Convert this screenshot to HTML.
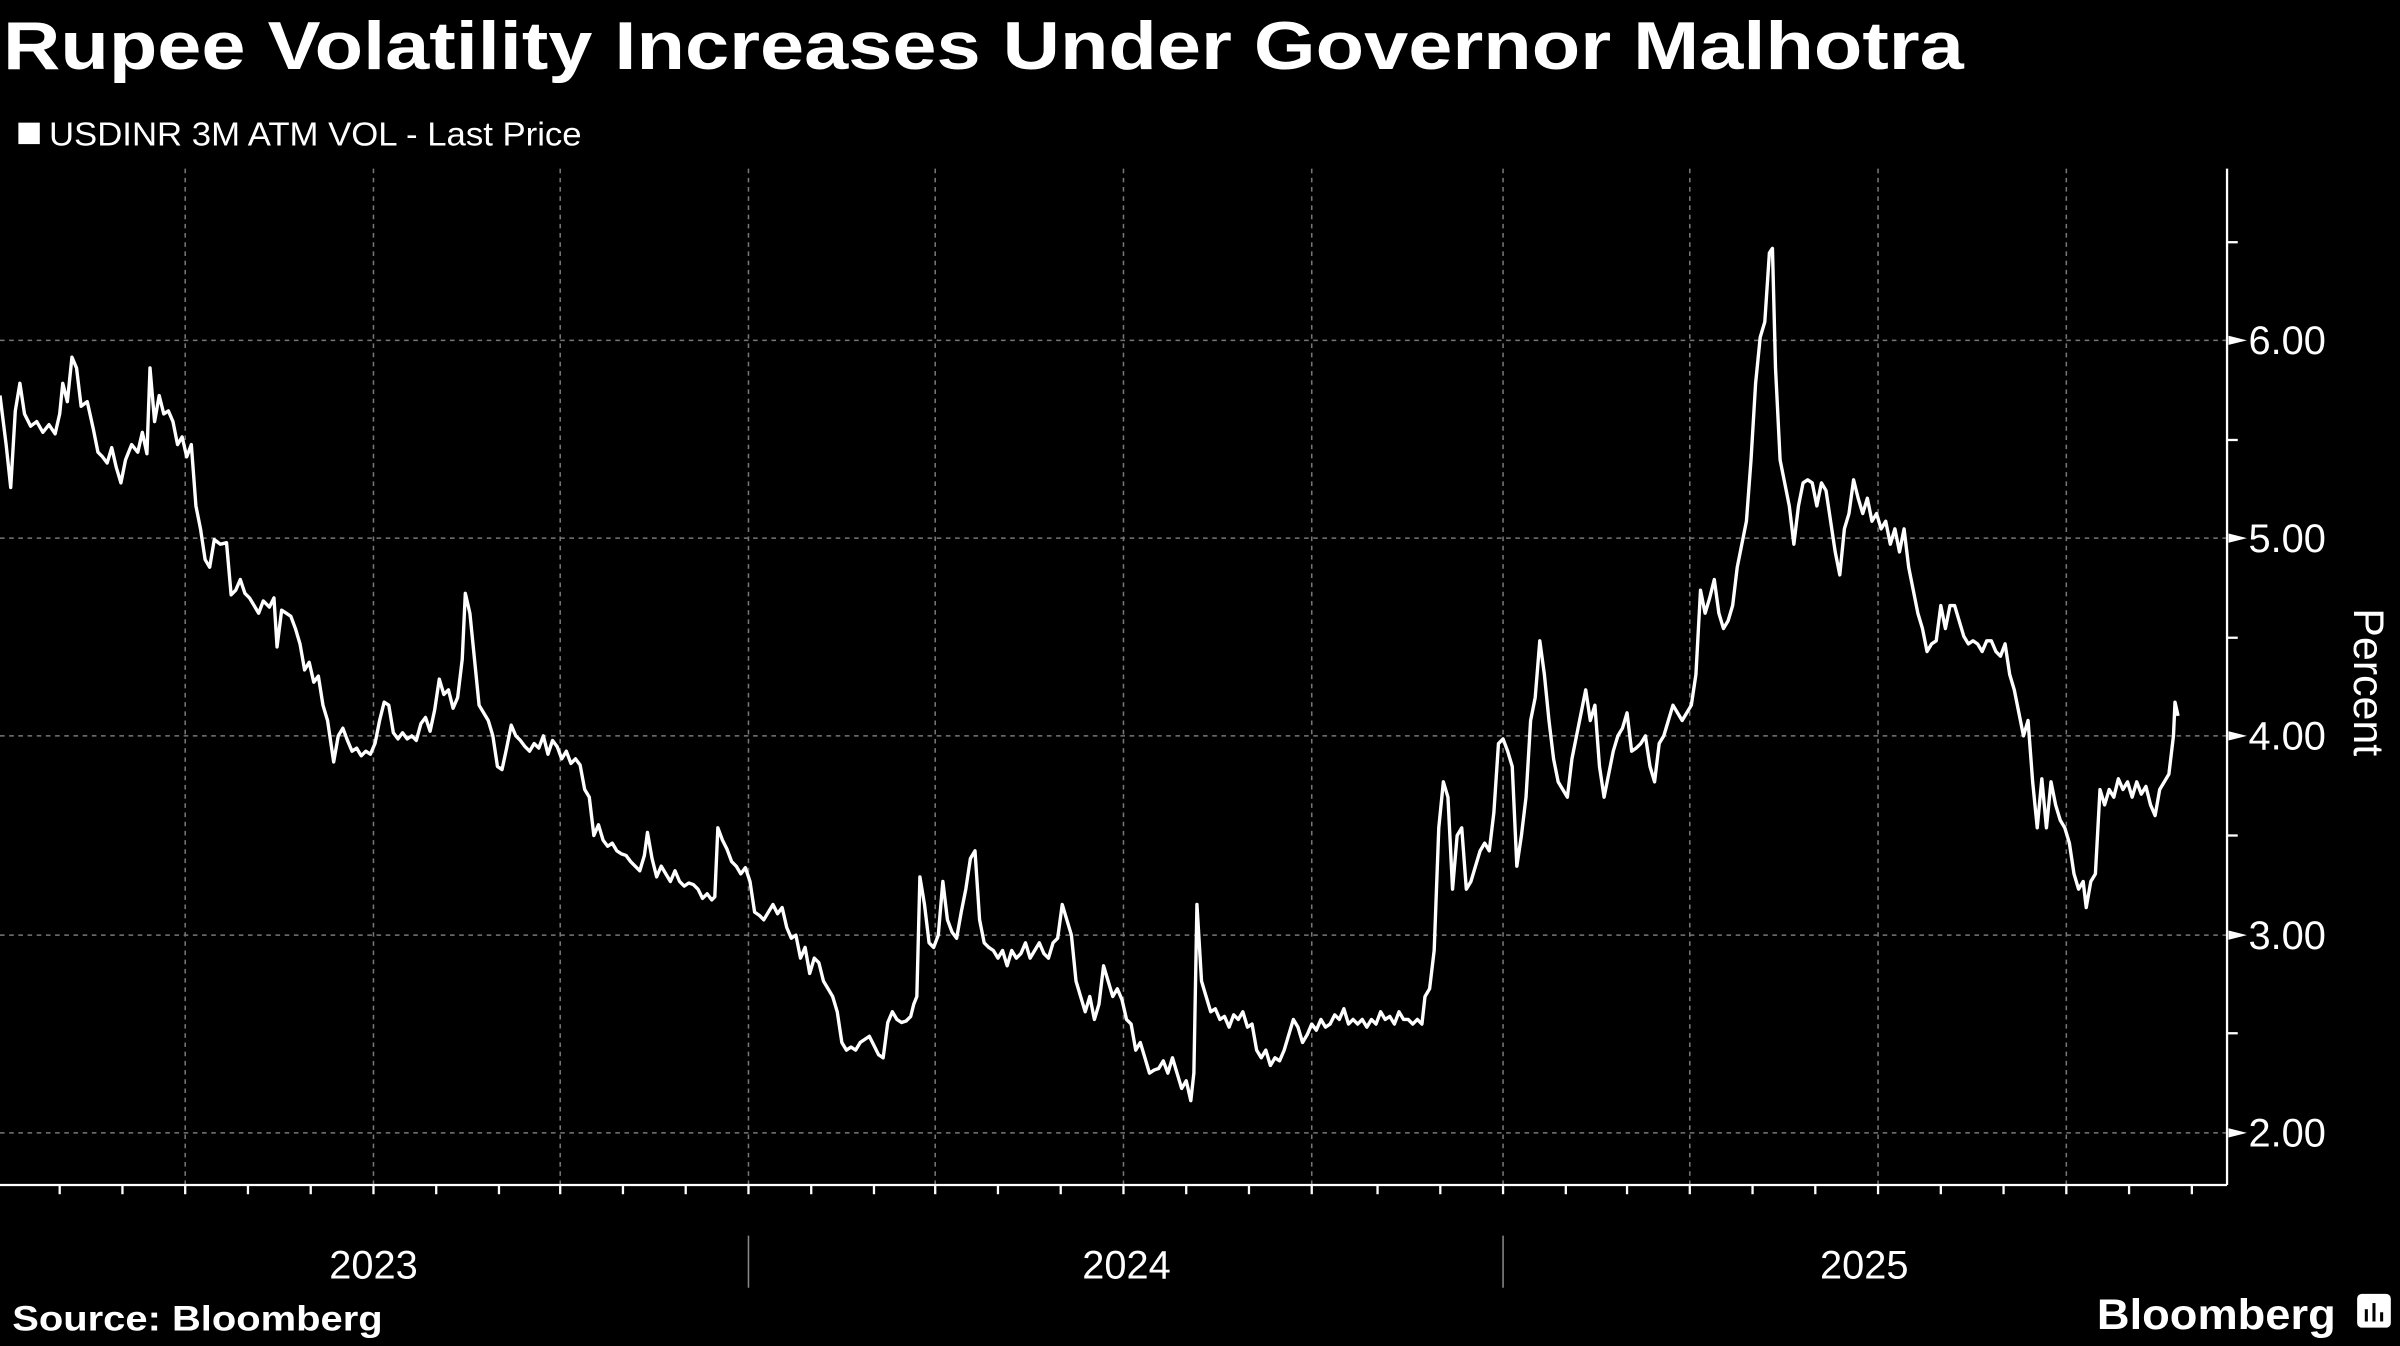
<!DOCTYPE html>
<html><head><meta charset="utf-8"><style>
html,body{margin:0;padding:0;background:#000;}
svg{display:block;}
text{font-family:"Liberation Sans Narrow","Liberation Sans",sans-serif;fill:#fff;}
</style></head><body>
<svg width="2400" height="1346" viewBox="0 0 1568 878" preserveAspectRatio="none" xmlns="http://www.w3.org/2000/svg">
<rect width="1568" height="878" fill="#000"/>
<text x="2" y="45" font-size="44" font-weight="bold" textLength="1281" lengthAdjust="spacingAndGlyphs">Rupee Volatility Increases Under Governor Malhotra</text>
<rect x="12" y="80" width="14" height="14" fill="#fff"/>
<text x="32" y="95" font-size="22" textLength="348" lengthAdjust="spacingAndGlyphs">USDINR 3M ATM VOL - Last Price</text>
<g stroke="#777" stroke-width="1" stroke-dasharray="3,3">
<line x1="0" x2="1455" y1="222" y2="222"/><line x1="0" x2="1455" y1="351" y2="351"/><line x1="0" x2="1455" y1="480" y2="480"/><line x1="0" x2="1455" y1="610" y2="610"/><line x1="0" x2="1455" y1="739" y2="739"/>
<line x1="121" x2="121" y1="110" y2="773"/><line x1="244" x2="244" y1="110" y2="773"/><line x1="366" x2="366" y1="110" y2="773"/><line x1="489" x2="489" y1="110" y2="773"/><line x1="611" x2="611" y1="110" y2="773"/><line x1="734" x2="734" y1="110" y2="773"/><line x1="857" x2="857" y1="110" y2="773"/><line x1="982" x2="982" y1="110" y2="773"/><line x1="1104" x2="1104" y1="110" y2="773"/><line x1="1227" x2="1227" y1="110" y2="773"/><line x1="1350" x2="1350" y1="110" y2="773"/>
</g>
<g stroke="#fff" stroke-width="1.5">
<line x1="1455" x2="1455" y1="110" y2="773"/><line x1="0" x2="1455" y1="773" y2="773"/>
<line x1="1455" x2="1462" y1="158" y2="158"/><line x1="1455" x2="1462" y1="287" y2="287"/><line x1="1455" x2="1462" y1="416" y2="416"/><line x1="1455" x2="1462" y1="545" y2="545"/><line x1="1455" x2="1462" y1="674" y2="674"/>
<line x1="39" x2="39" y1="773" y2="779"/><line x1="80" x2="80" y1="773" y2="779"/><line x1="121" x2="121" y1="773" y2="779"/><line x1="162" x2="162" y1="773" y2="779"/><line x1="203" x2="203" y1="773" y2="779"/><line x1="244" x2="244" y1="773" y2="779"/><line x1="285" x2="285" y1="773" y2="779"/><line x1="326" x2="326" y1="773" y2="779"/><line x1="366" x2="366" y1="773" y2="779"/><line x1="407" x2="407" y1="773" y2="779"/><line x1="448" x2="448" y1="773" y2="779"/><line x1="489" x2="489" y1="773" y2="779"/><line x1="530" x2="530" y1="773" y2="779"/><line x1="571" x2="571" y1="773" y2="779"/><line x1="611" x2="611" y1="773" y2="779"/><line x1="652" x2="652" y1="773" y2="779"/><line x1="693" x2="693" y1="773" y2="779"/><line x1="734" x2="734" y1="773" y2="779"/><line x1="775" x2="775" y1="773" y2="779"/><line x1="816" x2="816" y1="773" y2="779"/><line x1="857" x2="857" y1="773" y2="779"/><line x1="900" x2="900" y1="773" y2="779"/><line x1="941" x2="941" y1="773" y2="779"/><line x1="982" x2="982" y1="773" y2="779"/><line x1="1023" x2="1023" y1="773" y2="779"/><line x1="1063" x2="1063" y1="773" y2="779"/><line x1="1104" x2="1104" y1="773" y2="779"/><line x1="1145" x2="1145" y1="773" y2="779"/><line x1="1186" x2="1186" y1="773" y2="779"/><line x1="1227" x2="1227" y1="773" y2="779"/><line x1="1268" x2="1268" y1="773" y2="779"/><line x1="1309" x2="1309" y1="773" y2="779"/><line x1="1350" x2="1350" y1="773" y2="779"/><line x1="1391" x2="1391" y1="773" y2="779"/><line x1="1432" x2="1432" y1="773" y2="779"/>
</g>
<g stroke="#888" stroke-width="1"><line x1="489" x2="489" y1="806" y2="840"/><line x1="982" x2="982" y1="806" y2="840"/></g>
<g fill="#fff"><polygon points="1456,219 1468,222 1456,225"/><polygon points="1456,348 1468,351 1456,354"/><polygon points="1456,477 1468,480 1456,483"/><polygon points="1456,607 1468,610 1456,613"/><polygon points="1456,736 1468,739 1456,742"/></g>
<g font-size="26"><text x="1469" y="231">6.00</text><text x="1469" y="360">5.00</text><text x="1469" y="489">4.00</text><text x="1469" y="619">3.00</text><text x="1469" y="748">2.00</text></g>
<text x="0" y="0" font-size="28" transform="translate(1538,445) rotate(90)" text-anchor="middle">Percent</text>
<g font-size="26" text-anchor="middle"><text x="244" y="834">2023</text><text x="736" y="834">2024</text><text x="1218" y="834">2025</text></g>
<text x="8" y="868" font-size="23" font-weight="bold" textLength="242" lengthAdjust="spacingAndGlyphs">Source: Bloomberg</text>
<text x="1370" y="867" font-size="28" font-weight="bold" textLength="156" lengthAdjust="spacingAndGlyphs">Bloomberg</text>
<rect x="1540" y="844" width="22" height="22" rx="3" fill="#fff"/>
<g stroke="#000" stroke-width="2"><line x1="1546" y1="854" x2="1546" y2="862"/><line x1="1551" y1="850" x2="1551" y2="862"/><line x1="1556" y1="856" x2="1556" y2="862"/></g>
<polyline fill="none" stroke="#fff" stroke-width="2.2" stroke-linejoin="round" points="0,258 4,290 7,318 10,268 13,250 16,270 20,278 24,275 28,282 32,277 36,283 39,270 41,250 44,262 47,233 50,240 53,265 57,262 61,280 64,295 67,298 70,302 73,292 76,305 79,315 82,300 86,290 90,295 93,282 96,296 98,240 101,275 104,258 107,270 110,268 113,275 116,290 119,285 122,298 125,290 128,330 131,345 134,365 137,370 140,352 144,355 148,354 151,388 154,385 157,378 160,387 163,390 166,395 169,400 172,392 176,396 179,390 181,422 184,398 187,400 190,402 193,410 196,420 199,437 202,432 205,445 208,441 211,460 214,470 218,497 221,480 224,475 227,483 230,490 233,488 236,493 239,490 242,492 245,485 248,470 251,458 254,460 257,478 260,482 263,478 266,482 269,480 272,483 275,472 278,468 281,477 284,463 287,443 290,453 293,450 296,462 299,455 302,430 304,387 307,400 310,430 313,460 316,465 319,470 322,480 325,500 328,502 331,488 334,473 337,480 340,483 343,487 346,490 349,485 352,488 355,480 358,492 361,483 364,487 367,495 370,490 373,498 376,495 379,499 382,515 385,520 388,545 391,538 394,548 397,552 400,550 403,555 406,557 409,558 412,562 415,565 418,568 421,558 423,543 426,560 429,572 432,565 435,570 438,575 441,568 444,575 447,578 450,576 453,577 456,580 459,586 462,583 465,587 467,585 469,540 472,548 475,554 478,562 481,565 484,570 487,566 490,575 493,595 496,597 499,600 502,595 505,590 508,596 511,592 514,605 517,612 520,610 523,625 526,618 529,635 532,625 535,628 538,640 541,645 544,650 547,660 550,680 553,685 556,683 559,685 562,680 565,678 568,676 571,682 574,688 577,690 580,667 583,660 586,665 589,667 592,666 595,663 597,655 599,650 601,572 604,590 607,615 610,618 613,610 616,575 619,600 622,608 625,612 628,595 631,580 634,560 637,555 640,600 643,615 646,618 649,620 652,625 655,620 658,630 661,620 664,625 667,622 670,615 673,625 676,620 679,615 682,622 685,625 688,615 691,612 694,590 697,600 700,610 703,640 706,650 709,660 712,650 715,665 718,655 721,630 724,640 727,650 730,645 733,652 736,665 739,668 742,685 745,680 748,690 751,700 754,698 757,697 760,692 763,700 766,690 769,700 772,710 775,705 778,718 780,700 782,590 785,640 788,650 791,660 794,658 797,665 800,663 803,670 806,662 809,665 812,660 815,670 818,668 821,685 824,690 827,685 830,695 833,690 836,692 839,685 842,675 845,665 848,670 851,680 854,675 857,668 860,672 863,665 866,670 869,668 872,662 875,665 878,658 881,668 884,665 887,668 890,665 893,670 896,665 899,668 902,660 905,665 908,663 911,668 914,660 917,665 920,665 923,668 926,665 929,668 931,650 934,645 937,620 940,540 943,510 946,520 949,580 952,545 955,540 958,580 961,575 964,565 967,555 970,550 973,555 976,530 979,485 982,482 985,490 988,500 991,565 994,545 997,520 1000,470 1003,455 1006,418 1009,440 1012,470 1015,495 1018,510 1021,515 1024,520 1027,495 1030,480 1033,465 1036,450 1039,470 1042,460 1045,500 1048,520 1051,505 1054,490 1057,480 1060,475 1063,465 1066,490 1069,488 1072,485 1075,480 1078,500 1081,510 1084,485 1087,480 1090,470 1093,460 1096,465 1099,470 1102,465 1105,460 1108,440 1111,385 1114,400 1117,390 1120,378 1123,400 1126,410 1129,405 1132,395 1135,370 1138,355 1141,340 1144,300 1147,250 1150,220 1153,210 1156,165 1158,162 1160,240 1163,300 1166,315 1169,330 1172,355 1175,330 1178,315 1181,313 1184,315 1187,330 1190,315 1193,320 1196,340 1199,360 1202,375 1205,345 1208,335 1211,313 1214,325 1217,335 1220,325 1223,340 1226,335 1229,345 1232,340 1235,355 1238,345 1241,360 1244,345 1247,370 1250,385 1253,400 1256,410 1259,425 1262,420 1265,418 1268,395 1271,410 1274,395 1277,395 1280,405 1283,415 1286,420 1289,418 1292,420 1295,425 1298,418 1301,418 1304,425 1307,428 1310,420 1313,440 1316,450 1319,465 1322,480 1325,470 1328,510 1331,540 1334,508 1337,540 1340,510 1343,525 1346,535 1349,540 1352,550 1355,570 1358,580 1361,575 1363,592 1366,575 1369,570 1372,515 1375,525 1378,515 1381,520 1384,508 1387,515 1390,510 1393,520 1396,510 1399,518 1402,513 1405,525 1408,532 1411,515 1414,510 1417,505 1420,480 1421,458 1423,467"/>
</svg>
</body></html>
